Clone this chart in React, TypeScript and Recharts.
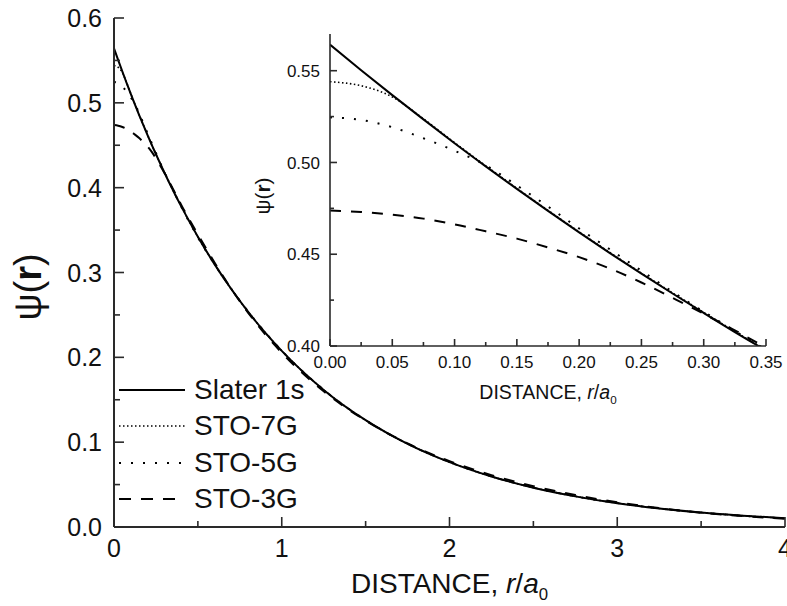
import React from "react";
import { LineChart, Line, XAxis, YAxis, Legend, Label } from "recharts";

// distance r/a0 sampled along the curves
const DIST = [0, 0.025, 0.05, 0.075, 0.1, 0.125, 0.15, 0.175, 0.2, 0.225, 0.25, 0.275, 0.3, 0.325, 0.35,
  0.4, 0.5, 0.6, 0.7, 0.8, 0.9, 1.0, 1.25, 1.5, 1.75, 2.0, 2.25, 2.5, 2.75, 3.0, 3.25, 3.5, 3.75, 4.0];

const SLATER = [0.5642, 0.5503, 0.5367, 0.5235, 0.5105, 0.4979, 0.4856, 0.4736, 0.4619, 0.4505, 0.4394, 0.4286, 0.4180, 0.4076, 0.3976,
  0.3782, 0.3422, 0.3096, 0.2802, 0.2535, 0.2294, 0.2076, 0.1616, 0.1259, 0.0980, 0.0764, 0.0595, 0.0463, 0.0361, 0.0281, 0.0219, 0.0170, 0.0133, 0.0103];
const STO7G = [0.5440, 0.5418, 0.5357, 0.5238, 0.5108, 0.4982, 0.4859, 0.4739, 0.4622, 0.4508, 0.4397, 0.4289, 0.4183, 0.4079, 0.3978,
  0.3783, 0.3421, 0.3095, 0.2802, 0.2536, 0.2295, 0.2077, 0.1617, 0.1259, 0.0980, 0.0764, 0.0595, 0.0464, 0.0362, 0.0282, 0.0219, 0.0170, 0.0133, 0.0103];
const STO5G = [0.5246, 0.5232, 0.5192, 0.5132, 0.5064, 0.4985, 0.4875, 0.4760, 0.4640, 0.4525, 0.4410, 0.4295, 0.4187, 0.4082, 0.3980,
  0.3780, 0.3415, 0.3095, 0.2805, 0.2540, 0.2297, 0.2078, 0.1617, 0.1260, 0.0981, 0.0765, 0.0596, 0.0464, 0.0362, 0.0282, 0.0219, 0.0170, 0.0133, 0.0103];
const STO3G = [0.4738, 0.4730, 0.4715, 0.4694, 0.4663, 0.4625, 0.4585, 0.4537, 0.4484, 0.4421, 0.4346, 0.4262, 0.4176, 0.4085, 0.3992,
  0.3800, 0.3450, 0.3115, 0.2805, 0.2525, 0.2275, 0.2055, 0.1600, 0.1255, 0.0985, 0.0777, 0.0612, 0.0481, 0.0376, 0.0291, 0.0223, 0.0168, 0.0128, 0.0098];

const MAIN_X_TICKS = [0, 0.5, 1, 1.5, 2, 2.5, 3, 3.5, 4];
const MAIN_X_MAJOR = [0, 1, 2, 3, 4];
const MAIN_Y_TICKS = [0, 0.05, 0.1, 0.15, 0.2, 0.25, 0.3, 0.35, 0.4, 0.45, 0.5, 0.55, 0.6];
const MAIN_Y_MAJOR = [0, 0.1, 0.2, 0.3, 0.4, 0.5, 0.6];
const INSET_X_TICKS = [0, 0.025, 0.05, 0.075, 0.1, 0.125, 0.15, 0.175, 0.2, 0.225, 0.25, 0.275, 0.3, 0.325, 0.35];
const INSET_X_MAJOR = [0, 0.05, 0.1, 0.15, 0.2, 0.25, 0.3, 0.35];
const INSET_Y_TICKS = [0.4, 0.425, 0.45, 0.475, 0.5, 0.525, 0.55];
const INSET_Y_MAJOR = [0.4, 0.45, 0.5, 0.55];

const SERIES = [
  { key: "sto3g", name: "STO-3G", dash: "11 10", legendDash: "12 10", width: 2 },
  { key: "sto5g", name: "STO-5G", dash: "2 10", legendDash: "2 10", width: 2 },
  { key: "sto7g", name: "STO-7G", dash: "1.5 2.5", legendDash: "1.5 2.5", width: 1.6 },
  { key: "slater", name: "Slater 1s", dash: undefined, legendDash: undefined, width: 2 },
];
const LEGEND_ORDER = ["Slater 1s", "STO-7G", "STO-5G", "STO-3G"];

const rows = DIST.map((r, i) => ({ r, slater: SLATER[i], sto7g: STO7G[i], sto5g: STO5G[i], sto3g: STO3G[i] }));
const insetRows = rows.filter((d) => d.r <= 0.35 + 1e-9);

const AXIS = "#2a2a2a";
const FONT = "'Liberation Sans', Arial, sans-serif";

const isIn = (list: number[], v: number) => list.some((m) => Math.abs(m - v) < 1e-9);

// inward tick with optional label
function makeTick(opts: {
  side: "bottom" | "top" | "left" | "right";
  majors: number[];
  major: number;
  minor: number;
  fmt?: (v: number) => string;
  fontSize?: number;
  gap?: number;
}) {
  return (p: any) => {
    const x = Number(p.x);
    const y = Number(p.y);
    const v = Number(p.payload.value);
    const mj = isIn(opts.majors, v);
    const len = mj ? opts.major : opts.minor;
    let x2 = x, y2 = y;
    if (opts.side === "bottom") y2 = y - len;
    if (opts.side === "top") y2 = y + len;
    if (opts.side === "left") x2 = x + len;
    if (opts.side === "right") x2 = x - len;
    let label = null;
    if (mj && opts.fmt) {
      const fs = opts.fontSize || 16;
      const gap = opts.gap || 0;
      if (opts.side === "bottom") {
        label = (
          <text x={x} y={y + gap} textAnchor="middle" fontSize={fs} fontFamily={FONT} fill="#111" stroke="none">
            {opts.fmt(v)}
          </text>
        );
      } else {
        label = (
          <text x={x - gap} y={y + fs * 0.36} textAnchor="end" fontSize={fs} fontFamily={FONT} fill="#111" stroke="none">
            {opts.fmt(v)}
          </text>
        );
      }
    }
    return (
      <g>
        <path d={`M${x},${y}L${x2},${y2}`} stroke={AXIS} strokeWidth={1.6} fill="none" />
        {label}
      </g>
    );
  };
}

const renderLegend = () => (
  <div style={{ fontFamily: FONT }}>
    {LEGEND_ORDER.map((name) => {
      const s = SERIES.find((d) => d.name === name)!;
      return (
        <div key={name} style={{ display: "flex", alignItems: "center", height: 36.3 }}>
          <svg width={68} height={10} style={{ display: "block" }}>
            <line x1={1} y1={5} x2={67} y2={5} stroke="#000" strokeWidth={s.width} strokeDasharray={s.legendDash} />
          </svg>
          <span style={{ marginLeft: 8, fontSize: 28, color: "#111", lineHeight: "30px" }}>{name}</span>
        </div>
      );
    })}
  </div>
);

const XTitle = ({ viewBox, size, dy }: any) => {
  const { x, y, width } = viewBox;
  return (
    <text x={x + width / 2} y={y + dy} textAnchor="middle" fontFamily={FONT} fontSize={size} fill="#111">
      DISTANCE, <tspan fontStyle="italic">r</tspan>/<tspan fontStyle="italic">a</tspan>
      <tspan fontSize={size * 0.6} dy={size * 0.25}>0</tspan>
    </text>
  );
};

const YTitle = ({ cx, cy, size }: { cx: number; cy: number; size: number }) => (
  <text
    x={cx}
    y={cy}
    transform={`rotate(-90 ${cx} ${cy})`}
    textAnchor="middle"
    dominantBaseline="central"
    fontFamily={FONT}
    fontSize={size}
    fill="#111"
  >
    ψ(<tspan fontWeight="bold">r</tspan>)
  </text>
);

export default function App() {
  return (
    <div style={{ position: "absolute", left: 0, top: 0, width: 787, height: 606, background: "#fff" }}>
      <LineChart width={787} height={606} data={rows} margin={{ top: 18, right: 2, bottom: 0, left: 0 }}>
        <XAxis
          xAxisId="b"
          dataKey="r"
          type="number"
          domain={[0, 4]}
          ticks={MAIN_X_TICKS}
          interval={0}
          height={79}
          tickSize={0}
          tickMargin={0}
          tickLine={false}
          axisLine={{ stroke: AXIS, strokeWidth: 2 }}
          tick={makeTick({ side: "bottom", majors: MAIN_X_MAJOR, major: 10, minor: 6, fmt: (v) => String(v), fontSize: 25, gap: 30 })}
        >
          <Label content={(p: any) => <XTitle {...p} size={28} dy={66} />} />
        </XAxis>
        <XAxis
          xAxisId="t"
          orientation="top"
          dataKey="r"
          type="number"
          domain={[0, 4]}
          ticks={MAIN_X_TICKS}
          interval={0}
          height={0}
          tickSize={0}
          tickMargin={0}
          tickLine={false}
          axisLine={{ stroke: AXIS, strokeWidth: 2 }}
          tick={makeTick({ side: "top", majors: MAIN_X_MAJOR, major: 10, minor: 6 })}
        />
        <YAxis
          yAxisId="l"
          type="number"
          domain={[0, 0.6]}
          ticks={MAIN_Y_TICKS}
          interval={0}
          width={114}
          tickSize={0}
          tickMargin={0}
          tickLine={false}
          axisLine={{ stroke: AXIS, strokeWidth: 2 }}
          tick={makeTick({ side: "left", majors: MAIN_Y_MAJOR, major: 10, minor: 6, fmt: (v) => v.toFixed(1), fontSize: 25, gap: 12 })}
        />
        <YAxis
          yAxisId="r"
          orientation="right"
          type="number"
          domain={[0, 0.6]}
          ticks={MAIN_Y_TICKS}
          interval={0}
          width={0}
          tickSize={0}
          tickMargin={0}
          tickLine={false}
          axisLine={{ stroke: AXIS, strokeWidth: 2 }}
          tick={makeTick({ side: "right", majors: MAIN_Y_MAJOR, major: 10, minor: 6 })}
        />
        {SERIES.map((s) => (
          <Line
            key={s.key}
            xAxisId="b"
            yAxisId="l"
            dataKey={s.key}
            name={s.name}
            type="monotone"
            stroke="#000"
            strokeWidth={s.width}
            strokeDasharray={s.dash}
            dot={false}
            isAnimationActive={false}
          />
        ))}
        <Legend
          layout="vertical"
          align="center"
          verticalAlign="middle"
          content={renderLegend}
          wrapperStyle={{ left: 118, top: 372, width: 220, height: 146 }}
        />
      </LineChart>
      <svg width={787} height={606} style={{ position: "absolute", left: 0, top: 0, pointerEvents: "none" }}>
        <YTitle cx={28} cy={287} size={38} />
        <YTitle cx={262} cy={196} size={21} />
      </svg>

      <div style={{ position: "absolute", left: 250, top: 28 }}>
        <LineChart width={560} height={410} data={insetRows} margin={{ top: 6, right: 44, bottom: 0, left: 0 }}>
          <XAxis
            xAxisId="b"
            dataKey="r"
            type="number"
            domain={[0, 0.35]}
            allowDataOverflow
            ticks={INSET_X_TICKS}
            interval={0}
            height={92}
            tickSize={0}
            tickMargin={0}
            tickLine={false}
            axisLine={{ stroke: AXIS, strokeWidth: 1.6 }}
            tick={makeTick({ side: "bottom", majors: INSET_X_MAJOR, major: 7, minor: 4, fmt: (v) => v.toFixed(2), fontSize: 17, gap: 22 })}
          >
            <Label content={(p: any) => <XTitle {...p} size={19.5} dy={53} />} />
          </XAxis>
          <XAxis
            xAxisId="t"
            orientation="top"
            dataKey="r"
            type="number"
            domain={[0, 0.35]}
            allowDataOverflow
            ticks={INSET_X_TICKS}
            interval={0}
            height={0}
            tickSize={0}
            tickMargin={0}
            tickLine={false}
            axisLine={{ stroke: AXIS, strokeWidth: 1.6 }}
            tick={makeTick({ side: "top", majors: INSET_X_MAJOR, major: 7, minor: 4 })}
          />
          <YAxis
            yAxisId="l"
            type="number"
            domain={[0.4, 0.57]}
            allowDataOverflow
            ticks={INSET_Y_TICKS}
            interval={0}
            width={80}
            tickSize={0}
            tickMargin={0}
            tickLine={false}
            axisLine={{ stroke: AXIS, strokeWidth: 1.6 }}
            tick={makeTick({ side: "left", majors: INSET_Y_MAJOR, major: 7, minor: 4, fmt: (v) => v.toFixed(2), fontSize: 17, gap: 10 })}
          />
          <YAxis
            yAxisId="r"
            orientation="right"
            type="number"
            domain={[0.4, 0.57]}
            allowDataOverflow
            ticks={INSET_Y_TICKS}
            interval={0}
            width={0}
            tickSize={0}
            tickMargin={0}
            tickLine={false}
            axisLine={{ stroke: AXIS, strokeWidth: 1.6 }}
            tick={makeTick({ side: "right", majors: INSET_Y_MAJOR, major: 7, minor: 7 })}
          />
          {SERIES.map((s) => (
            <Line
              key={s.key}
              xAxisId="b"
              yAxisId="l"
              dataKey={s.key}
              name={s.name}
              type="monotone"
              stroke="#000"
              strokeWidth={s.width}
              strokeDasharray={s.dash}
              dot={false}
              isAnimationActive={false}
            />
          ))}
        </LineChart>
      </div>
    </div>
  );
}
